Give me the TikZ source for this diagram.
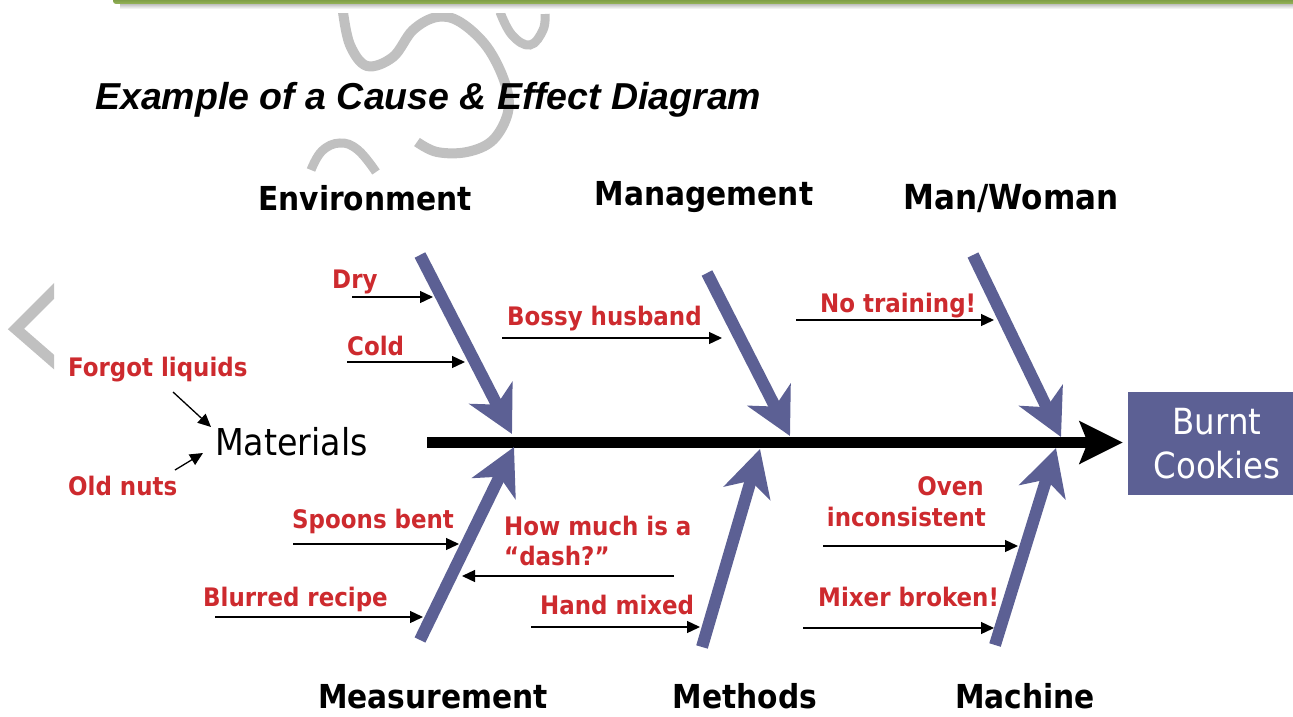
\documentclass[tikz,border=0pt]{standalone}
\usepackage{fontspec}
\setmainfont{DejaVu Sans Condensed}
\newfontfamily\titlefont{Liberation Sans}
\usetikzlibrary{arrows.meta}
\definecolor{boneblue}{RGB}{92,96,148}
\definecolor{causered}{RGB}{205,42,46}
\definecolor{swirlgray}{RGB}{192,192,192}
\definecolor{bardark}{RGB}{96,128,44}
\definecolor{barlight}{RGB}{150,180,90}
\begin{document}
\begin{tikzpicture}[x=1pt,y=-1pt,
  bone/.style={draw=boneblue, line width=12pt,
    -{Stealth[length=46pt,width=48pt,inset=13pt,fill=boneblue]}},
  spine/.style={draw=black, line width=11pt,
    -{Stealth[length=43pt,width=42pt,inset=8pt]}},
  causearrow/.style={draw=black, line width=1.3pt,
    -{Triangle[length=13pt,width=12pt]}},
  category/.style={font=\bfseries\fontsize{33}{36}\selectfont, inner sep=0pt, anchor=base},
  cause/.style={font=\bfseries\fontsize{25.5}{31}\selectfont, text=causered, inner sep=0pt, anchor=base west},
  swirl/.style={draw=swirlgray, line width=10pt, line cap=butt}]

\useasboundingbox (0,0) rectangle (1293,717);

% header bar with its shadow
\shade[top color=black!30, bottom color=white] (120,3) rectangle (1293,9);
\shade[top color=bardark, bottom color=barlight, rounded corners=3pt] (113,-6) rectangle (1300,4);

% decorative grey swirls
\begin{scope}
  \clip (0,14) rectangle (1293,717);
  \draw[swirl] plot[smooth, tension=0.6] coordinates {(343,12) (350,45) (367,66) (393,57) (413,30) (437,17) (460,22) (487,47) (505,83) (508,112) (493,140) (467,152) (437,152) (417,142)};
  \draw[swirl, line width=9pt] plot[smooth, tension=0.7] coordinates {(500,12) (512,35) (530,45) (543,30) (545,14)};
  \draw[swirl, line width=9pt] plot[smooth, tension=0.7] coordinates {(311,170) (322,151) (340,143) (358,150) (376,172)};
\end{scope}
\begin{scope}
  \clip (0,280) rectangle (54,370);
  \draw[swirl, line width=11pt, line join=miter] (62,283) -- (16,329) -- (62,369);
\end{scope}

% title
\node[font=\titlefont\bfseries\itshape\fontsize{37.5}{44}\selectfont, inner sep=0pt, anchor=base west] (title) at (95,110) {Example of a Cause \& Effect Diagram};

% effect box and spine
\node[fill=boneblue, text=white, minimum width=178pt, minimum height=103pt, inner sep=0pt,
  align=center, font=\fontsize{36}{44}\selectfont] (effect) at (1217,443.5) {Burnt\\Cookies};
\coordinate (spineS) at (427,442.5);
\draw[spine, shorten >=5pt] (spineS) -- (spineS -| effect.west);

% category labels
\node[category] (env)  at (365,210) {Environment};
\node[category] (mgmt) at (704,205) {Management};
\node[category, font=\bfseries\fontsize{34.5}{36}\selectfont] (man)  at (1011,209) {Man/Woman};
\node[category] (meas) at (433,708) {Measurement};
\node[category] (meth) at (745,708) {Methods};
\node[category] (mach) at (1025,708) {Machine};
\node[font=\fontsize{37}{44}\selectfont, inner sep=0pt, anchor=base west] (mat) at (215,455) {Materials};

% bones
\coordinate (envS)  at (420,255);  \coordinate (envT)  at (512,434);
\coordinate (mgmtS) at (707,273);  \coordinate (mgmtT) at (790,436);
\coordinate (manS)  at (973,255);  \coordinate (manT)  at (1061,437);
\coordinate (measS) at (420,640);  \coordinate (measT) at (514,447);
\coordinate (methS) at (702,647);  \coordinate (methT) at (760,449);
\coordinate (machS) at (995,645);  \coordinate (machT) at (1056,448);
\draw[bone] (envS) -- (envT);
\draw[bone] (mgmtS) -- (mgmtT);
\draw[bone] (manS) -- (manT);
\draw[bone] (measS) -- (measT);
\draw[bone] (methS) -- (methT);
\draw[bone] (machS) -- (machT);

% causes
\node[cause] (forgot) at (68,376) {Forgot liquids};
\node[cause] (oldnuts) at (68,495) {Old nuts};
\node[cause] (dry) at (332,288) {Dry};
\node[cause] (cold) at (347,355) {Cold};
\node[cause] (bossy) at (507,325) {Bossy husband};
\node[cause] (notrain) at (820,312) {No training!};
\node[cause] (spoons) at (292,528) {Spoons bent};
\node[cause] (howmuch) at (504,535) {How much is a};
\node[cause] (dash) at (504,565) {“dash?”};
\node[cause] (blurred) at (203,606) {Blurred recipe};
\node[cause] (hand) at (540,614) {Hand mixed};
\node[cause, anchor=base east] (oven) at (984,495) {Oven};
\node[cause, anchor=base east] (incons) at (986,526) {inconsistent};
\node[cause] (mixer) at (818,606) {Mixer broken!};

% cause arrows
\coordinate (forgotA) at (173,392);  \coordinate (forgotB) at (211,427);
\coordinate (oldA) at (175,470);     \coordinate (oldB) at (203,453);
\coordinate (dryA) at (352,297);     \coordinate (dryB) at (433,297);
\coordinate (coldA) at (347,362);    \coordinate (coldB) at (465,362);
\coordinate (bossyA) at (502,338);   \coordinate (bossyB) at (722,338);
\coordinate (trainA) at (796,320);   \coordinate (trainB) at (994,320);
\coordinate (spoonA) at (293,544);   \coordinate (spoonB) at (459,544);
\coordinate (dashA) at (674,576);    \coordinate (dashB) at (462,576);
\coordinate (blurA) at (215,617);    \coordinate (blurB) at (423,617);
\coordinate (handA) at (531,627);    \coordinate (handB) at (700,627);
\coordinate (ovenA) at (823,546);    \coordinate (ovenB) at (1018,546);
\coordinate (mixA) at (803,628);     \coordinate (mixB) at (994,628);
\foreach \a/\b in {forgotA/forgotB, oldA/oldB, dryA/dryB, coldA/coldB, bossyA/bossyB,
  trainA/trainB, spoonA/spoonB, dashA/dashB, blurA/blurB, handA/handB, ovenA/ovenB, mixA/mixB}
  \draw[causearrow] (\a) -- (\b);
\end{tikzpicture}
\end{document}
